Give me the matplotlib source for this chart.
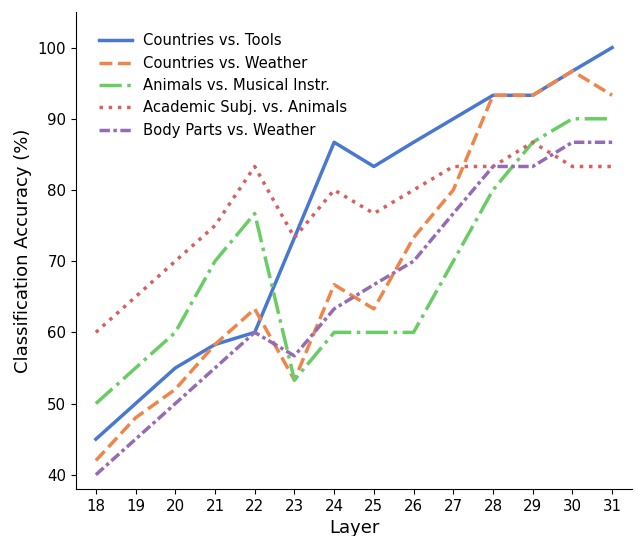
import matplotlib
matplotlib.use("Agg")
import matplotlib.pyplot as plt

layers = list(range(18, 32))
countries_tools = [45, 50, 55, 58.3, 60, 73.3, 86.7, 83.3, 86.7, 90, 93.3, 93.3, 96.7, 100]
countries_weather = [42, 48, 52, 58.3, 63.3, 53.3, 66.7, 63.3, 73.3, 80, 93.3, 93.3, 96.7, 93.3]
animals_music = [50, 55, 60, 70, 76.7, 53.3, 60, 60, 60, 70, 80, 86.7, 90, 90]
academic_animals = [60, 65, 70, 75, 83.3, 73.3, 80, 76.7, 80, 83.3, 83.3, 86.7, 83.3, 83.3]
body_weather = [40, 45, 50, 55, 60, 56.7, 63.3, 66.7, 70, 76.7, 83.3, 83.3, 86.7, 86.7]
labels = ["Countries vs. Tools", "Countries vs. Weather", "Animals vs. Musical Instr.",
          "Academic Subj. vs. Animals", "Body Parts vs. Weather"]

series = [countries_tools, countries_weather, animals_music, academic_animals, body_weather]
colors = ["#4878d0", "#ee854a", "#6acc64", "#d65f5f", "#956cb4"]
styles = ["-", "--", "-.", ":", (0, (3, 1, 1, 1))]

fig = plt.figure(figsize=(6.38, 5.36), dpi=100)
ax = fig.add_axes([76/638, 1-489/536, (632-76)/638, (489-12)/536])
for s, c, ls, lab in zip(series, colors, styles, labels):
    ax.plot(layers, s, color=c, linestyle=ls, linewidth=2.5, label=lab)

ax.set_xticks(layers)
ax.set_xlim(17.5, 31.5)
ax.set_ylim(38, 105)
ax.set_yticks([40, 50, 60, 70, 80, 90, 100])
ax.tick_params(labelsize=10.8)
ax.set_xlabel("Layer", fontsize=13)
ax.set_ylabel("Classification Accuracy (%)", fontsize=13)
ax.spines["top"].set_visible(False)
ax.spines["right"].set_visible(False)
ax.legend(loc="upper left", fontsize=10.6, frameon=False, handlelength=2.25,
          handletextpad=0.7, bbox_to_anchor=(0.018, 0.983))
fig.savefig("out.png", dpi=100)
